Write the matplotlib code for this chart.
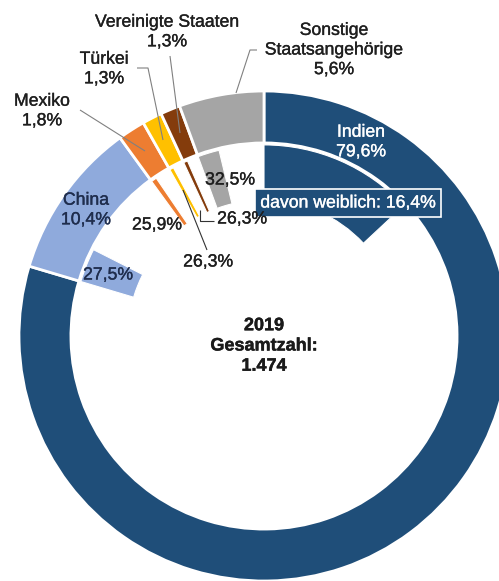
import matplotlib
matplotlib.use('Agg')
import matplotlib.pyplot as plt
import matplotlib.patheffects as pe
from matplotlib import font_manager

# Data
countries = ['Indien', 'China', 'Mexiko', 'Türkei', 'Vereinigte Staaten', 'Sonstige\nStaatsangehörige']
shares = [79.6, 10.4, 1.8, 1.3, 1.3, 5.6]
female = [16.4, 27.5, 25.9, 26.3, 26.3, 32.5]
colors = ['#1f4e79', '#8faadc', '#ed7d31', '#ffc000', '#843c0c', '#a5a5a5']
year = '2019'
total = '1.474'

# Font
names = {f.name for f in font_manager.fontManager.ttflist}
font = 'Liberation Sans' if 'Liberation Sans' in names else 'DejaVu Sans'
plt.rcParams['font.family'] = [font, 'DejaVu Sans']

# Pixel layout helper (center of ring and radius in pixels)
cx, cy, R = 264, 336, 245


def px(x, y):
    return (x - cx) / R, (cy - y) / R


fig = plt.figure(figsize=(4.99, 5.81), dpi=100)
ax = fig.add_axes([0, 0, 1, 1])

# Outer ring
ax.pie(shares, radius=1.0, startangle=90, counterclock=False, colors=colors,
       wedgeprops=dict(width=0.212, edgecolor='white', linewidth=2))

# Inner ring: female part of each segment, rest left empty
inner_vals = []
inner_cols = []
for s, f, c in zip(shares, female, colors):
    inner_vals += [s * f / 100, s * (100 - f) / 100]
    inner_cols += [c, 'none']
wedges, _ = ax.pie(inner_vals, radius=0.78, startangle=90, counterclock=False, colors=inner_cols,
                   wedgeprops=dict(width=0.225, edgecolor='white', linewidth=0.8))
for i, w in enumerate(wedges):
    if i % 2 == 1:
        w.set_visible(False)

txt = '#1f1f1f'
fs = 12.7


def pct(v):
    return f'{v:.1f}%'.replace('.', ',')


def label(x, y, s, **kw):
    kw.setdefault('color', txt)
    kw.setdefault('fontsize', fs)
    t = ax.text(*px(x, y), s, ha='center', va='center', linespacing=1.2, **kw)
    t.set_path_effects([pe.withStroke(linewidth=0.25, foreground=kw['color'])])
    return t


def line(pts, color='#808080', lw=0.8):
    xs, ys = zip(*[px(x, y) for x, y in pts])
    ax.plot(xs, ys, color=color, lw=lw, solid_capstyle='butt')


# Outer labels
label(361, 142, f'{countries[0]}\n{pct(shares[0])}', color='white')
label(86, 210, f'{countries[1]}\n{pct(shares[1])}', color='#1f2d4d')
label(42, 111, f'{countries[2]}\n{pct(shares[2])}')
label(104, 69, f'{countries[3]}\n{pct(shares[3])}')
label(167, 32, f'{countries[4]}\n{pct(shares[4])}')
label(334, 50, f'{countries[5]}\n{pct(shares[5])}')

# Inner labels
box = label(348, 203, f'davon weiblich: {pct(female[0])}', color='white')
box.set_bbox(dict(boxstyle='square,pad=0.3', facecolor=colors[0], edgecolor='white', linewidth=1.2))
label(108, 275, pct(female[1]), color='#1f2d4d')
label(157, 225, pct(female[2]))
label(208, 262, pct(female[3]))
label(242, 219, pct(female[4]))
label(230, 180, pct(female[5]))

# Leader lines
line([(170, 56), (180, 133)])
line([(137, 68), (148, 68), (163, 140)])
line([(80, 110), (145, 151)])
line([(257, 50), (250, 50), (236, 93)])
line([(183, 190), (207, 250)], color='#333333')
line([(200, 210), (200, 221), (214, 221)], color='#333333')

# Center text
ctr = ax.text(0, px(0, 346)[1], f'{year}\nGesamtzahl:\n{total}', ha='center', va='center',
              fontsize=13, fontweight='bold', color='#1a1a1a', linespacing=1.25)
ctr.set_path_effects([pe.withStroke(linewidth=0.3, foreground='#1a1a1a')])

ax.set_xlim(px(0, 0)[0], px(499, 0)[0])
ax.set_ylim(px(0, 581)[1], px(0, 0)[1])
ax.set_aspect('equal', adjustable='box')
ax.axis('off')

plt.savefig('out.png', dpi=100, facecolor='white')
